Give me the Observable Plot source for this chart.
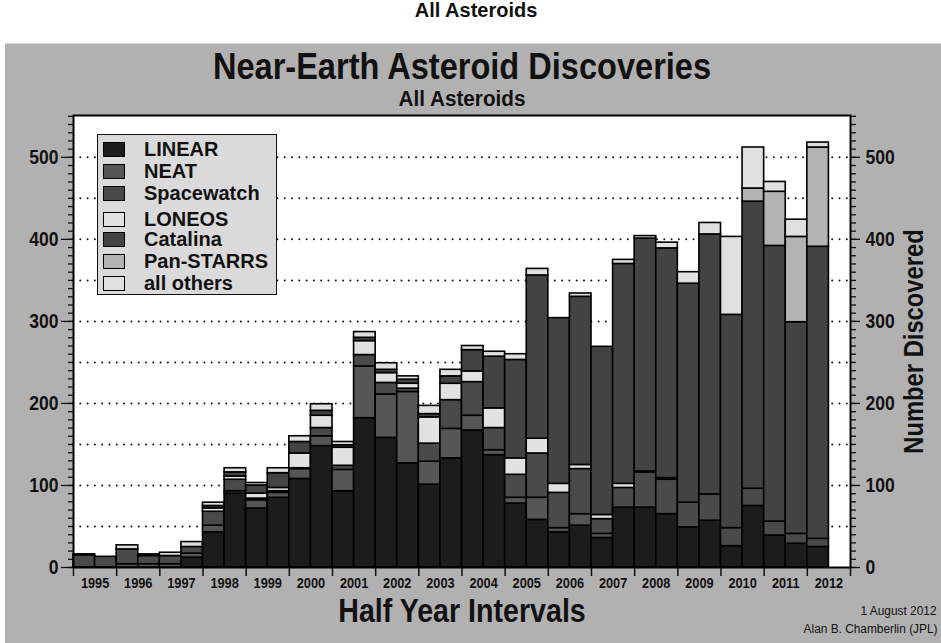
<!DOCTYPE html>
<html>
<head>
<meta charset="utf-8">
<script src="https://cdn.jsdelivr.net/npm/d3@7"></script>
<script src="https://cdn.jsdelivr.net/npm/@observablehq/plot@0.6"></script>
<style>
  body { margin: 0; background: #fff; font-family: "Liberation Sans", Arial, Helvetica, sans-serif; }
  #page { position: relative; width: 941px; height: 643px; overflow: hidden; }
  #head { position: absolute; left: 11px; top: 0; width: 930px; height: 43px; text-align: center;
          font-weight: bold; font-size: 20px; line-height: 21px; color: #111; }
  #panel { position: absolute; left: 5px; top: 43px; width: 936px; height: 600px; background: #b1b1b1;
           border-top: 1px solid #d6d6d6; box-sizing: border-box; }
  #panel svg { display: block; }
  #legend { position: absolute; left: 97px; top: 134px; width: 180px; height: 161px; background: #dadada;
            border: 1.5px solid #111; box-sizing: border-box; }
  #legend .row { position: absolute; left: 5px; height: 16px; display: flex; align-items: center; }
  #legend .sw { width: 22px; height: 15px; border: 1.5px solid #000; box-sizing: border-box; }
  #legend .lb { margin-left: 19px; font-weight: bold; font-size: 20px; color: #111; }
</style>
</head>
<body>
<div id="page">
  <div id="head">All Asteroids</div>
  <div id="panel"></div>
  <div id="legend"></div>
</div>
<script>
// Near-Earth asteroid discoveries per half year, by survey (stacked bottom to top)
const years = [1995, 1996, 1997, 1998, 1999, 2000, 2001, 2002, 2003, 2004, 2005, 2006, 2007, 2008, 2009, 2010, 2011, 2012];

const surveys = ["LINEAR", "NEAT", "Spacewatch", "LONEOS", "Catalina", "Pan-STARRS", "all others"];
const surveyColors = ["#1c1c1c", "#565656", "#4a4a4a", "#e2e2e2", "#434343", "#b3b3b3", "#e0e0e0"];

const linear     = [0, 0, 0, 0, 0, 12, 43, 90, 72, 85, 108, 148, 93, 182, 158, 127, 101, 133, 167, 137, 78, 58, 43, 51, 36, 73, 73, 65, 49, 57, 26, 75, 39, 29, 25];
const neat       = [0, 0, 4, 4, 4, 5, 8, 3, 10, 6, 12, 12, 26, 63, 53, 87, 28, 36, 18, 6, 7, 27, 5, 14, 5, 0, 0, 0, 0, 0, 0, 0, 0, 0, 0];
const spacewatch = [15, 13, 18, 10, 10, 8, 17, 14, 2, 2, 1, 10, 5, 14, 14, 4, 22, 35, 41, 27, 28, 54, 43, 55, 18, 24, 43, 42, 30, 32, 22, 21, 17, 12, 10];
const loneos     = [0, 0, 0, 0, 0, 0, 4, 4, 6, 4, 18, 15, 22, 17, 12, 6, 32, 20, 13, 24, 20, 18, 11, 5, 5, 5, 1, 2, 0, 0, 0, 0, 0, 0, 0];
const catalina   = [0, 0, 0, 0, 0, 0, 3, 5, 10, 18, 14, 6, 3, 4, 4, 5, 4, 9, 26, 63, 120, 199, 202, 205, 205, 268, 284, 280, 267, 317, 260, 350, 336, 258, 356];
const panstarrs  = [0, 0, 0, 0, 0, 0, 0, 0, 0, 0, 0, 0, 0, 0, 0, 0, 0, 0, 0, 0, 0, 0, 0, 0, 0, 0, 0, 0, 0, 0, 0, 16, 66, 104, 121];
const others     = [1, 0, 5, 2, 4, 6, 4, 5, 3, 6, 7, 8, 4, 7, 8, 4, 10, 8, 5, 6, 7, 8, 0, 4, 0, 5, 3, 7, 14, 14, 95, 50, 12, 21, 6];

const yTicks = [0, 100, 200, 300, 400, 500];
const gridValues = [50, 100, 150, 200, 250, 300, 350, 400, 450, 500];

const counts = [linear, neat, spacewatch, loneos, catalina, panstarrs, others];

// half-year interval starts: two per year, the last year has only its first half so far
const starts = [];
years.forEach(y => { starts.push(y); starts.push(y + 0.5); });
starts.length = linear.length;

const rows = [];
starts.forEach((s, i) => {
  surveys.forEach((name, k) => {
    const n = counts[k][i];
    if (n > 0) rows.push({x1: s, x2: s + 0.5, n, survey: name});
  });
});

const titleText = "Near-Earth Asteroid Discoveries";
const subtitleText = "All Asteroids";
const xTitle = "Half Year Intervals";
const yTitle = "Number Discovered";
const credits = ["1 August 2012", "Alan B. Chamberlin (JPL)"];

const chart = Plot.plot({
  width: 936,
  height: 599,
  marginLeft: 68,
  marginRight: 91,
  marginTop: 71,
  marginBottom: 76,
  style: {background: "transparent", fontFamily: "'Liberation Sans', Arial, Helvetica, sans-serif", color: "#111", overflow: "visible"},
  x: {domain: [1995, 2013], axis: null},
  y: {domain: [0, 551], axis: null},
  color: {domain: surveys, range: surveyColors},
  marks: [
    Plot.frame({fill: "white", stroke: null}),
    Plot.ruleY(gridValues, {stroke: "#111", strokeWidth: 2, strokeDasharray: "0,7.3", strokeLinecap: "round"}),
    Plot.rectY(rows, {x1: "x1", x2: "x2", y: "n", fill: "survey", stroke: "#000", strokeWidth: 1.6}),
    // left axis
    Plot.axisY({anchor: "left", ticks: d3.range(0, 551, 10), tickSize: 5, tickFormat: () => "", label: null, strokeWidth: 1.3}),
    Plot.axisY({anchor: "left", ticks: yTicks, tickSize: 12, tickPadding: 3, label: null, fontSize: 19.5, fontWeight: "bold", strokeWidth: 1.3}),
    // right axis
    Plot.axisY({anchor: "right", ticks: d3.range(0, 551, 10), tickSize: 5, tickFormat: () => "", label: null, strokeWidth: 1.3}),
    Plot.axisY({anchor: "right", ticks: yTicks, tickSize: 9, tickPadding: 6, label: null, fontSize: 19.5, fontWeight: "bold", strokeWidth: 1.3}),
    // year boundaries and year labels
    Plot.axisX({anchor: "bottom", ticks: d3.range(1995, 2014), tickSize: 9, tickFormat: () => "", label: null, strokeWidth: 1.5}),
    Plot.axisX({anchor: "bottom", ticks: years.map(y => y + 0.5), tickSize: 0, tickPadding: 10,
                tickFormat: d => String(Math.floor(d)), label: null, fontSize: 14.5, fontWeight: "bold"}),
    Plot.frame({stroke: "#000", strokeWidth: 2}),
    // titles
    Plot.text([titleText], {frameAnchor: "top", lineAnchor: "middle", dy: -48, fontSize: 37, fontWeight: "bold"}),
    Plot.text([subtitleText], {frameAnchor: "top", lineAnchor: "middle", dy: -17, fontSize: 22.5, fontWeight: "bold"}),
    Plot.text([xTitle], {frameAnchor: "bottom", lineAnchor: "middle", dy: 44, fontSize: 32.5, fontWeight: "bold"}),
    Plot.text([yTitle], {frameAnchor: "right", textAnchor: "middle", lineAnchor: "middle", dx: 64, rotate: -90, fontSize: 27, fontWeight: "bold"}),
    Plot.text([credits[0]], {frameAnchor: "bottom-right", lineAnchor: "middle", dx: 86, dy: 43, textAnchor: "end", fontSize: 13.5}),
    Plot.text([credits[1]], {frameAnchor: "bottom-right", lineAnchor: "middle", dx: 87, dy: 61, textAnchor: "end", fontSize: 13.5})
  ]
});

// the lettering of this chart is a narrow sans: compress each text
// horizontally about its own anchor point (its translate origin)
function squeeze(t, k) {
  const tr = t.getAttribute("transform");
  if (!tr) return;
  t.setAttribute("transform", `${tr} scale(${k},1)`);
}
chart.querySelectorAll("text").forEach(t => {
  const s = t.textContent.trim();
  if (!s) return;
  if (s === titleText || s === xTitle || s === yTitle || credits.includes(s)) squeeze(t, 0.88);
  else if (s === subtitleText) squeeze(t, 0.92);
  else if (/^\d{4}$/.test(s)) squeeze(t, 0.88);
  else if (/^\d{1,3}$/.test(s)) squeeze(t, 0.9);
});

document.getElementById("panel").appendChild(chart);

// legend box inside the plot area
const legend = document.getElementById("legend");
const rowTops = [6, 28, 50, 76, 96, 118, 140];
surveys.forEach((name, k) => {
  const row = document.createElement("div");
  row.className = "row";
  row.style.top = rowTops[k] + "px";
  const sw = document.createElement("div");
  sw.className = "sw";
  sw.style.background = surveyColors[k];
  const lb = document.createElement("span");
  lb.className = "lb";
  lb.textContent = name;
  row.appendChild(sw);
  row.appendChild(lb);
  legend.appendChild(row);
});
</script>
</body>
</html>
